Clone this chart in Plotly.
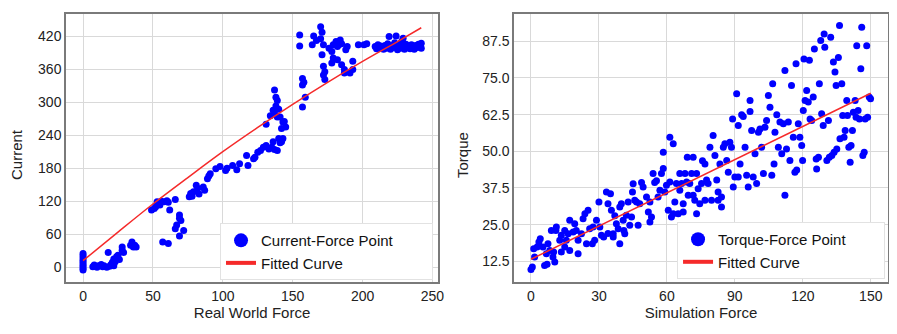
import plotly.graph_objects as go
from plotly.subplots import make_subplots

# ---- left panel: current vs real world force ----
current_pts = [
    (0, -5), (0, -2), (0, 2), (0, 5), (0, 9), (0, 13), (0, 17), (0, 21), (0, 25),
    (7, 1), (8, 4), (10, 0), (11, 3), (13, 5), (14, 1), (15, 3), (17, 0), (18, 27), (19, 2),
    (20, 5), (21, 9), (22, 3), (22, 15), (23, 10), (24, 19), (25, 22), (26, 14), (28, 37),
    (28, 31), (29, 27), (34, 40), (35, 46), (36, 37), (37, 40), (38, 37),
    (49, 104), (51, 107), (52, 110), (53, 119), (55, 113), (56, 120), (58, 119), (60, 121),
    (61, 118), (62, 104), (66, 123), (67, 77), (66, 70), (69, 95), (69, 89), (70, 85),
    (69, 57), (72, 67), (57, 46), (61, 43),
    (76, 128), (77, 134), (78, 129), (79, 137), (81, 149), (82, 143), (83, 133), (86, 146),
    (87, 140), (89, 161), (90, 166), (91, 170), (95, 179), (98, 183), (102, 176), (103, 180),
    (107, 185), (110, 177), (112, 188), (117, 203), (118, 185), (122, 197), (123, 200),
    (125, 209), (127, 212), (129, 218), (131, 221), (133, 215), (135, 218), (137, 214),
    (139, 212), (141, 226), (142, 230), (143, 234),
    (131, 260), (134, 275), (136, 285), (137, 279), (137, 322), (138, 309), (139, 303),
    (139, 273), (140, 234), (141, 273), (142, 228), (136, 228), (142, 252), (143, 264),
    (144, 265), (145, 255), (138, 293), (140, 287),
    (155, 402), (155, 422), (157, 343), (157, 331), (158, 336), (159, 309), (157, 291),
    (164, 404), (165, 420), (167, 412), (170, 437), (171, 427), (170, 415), (172, 404),
    (171, 386), (172, 365), (173, 355), (172, 349), (173, 341),
    (176, 398), (178, 392), (179, 404), (181, 410), (182, 401), (183, 404), (184, 413),
    (185, 406), (178, 371), (179, 380), (182, 377), (185, 368), (187, 359), (187, 353),
    (189, 401), (193, 374), (193, 359), (191, 353), (188, 395),
    (197, 404), (201, 404), (203, 406),
    (209, 401), (210, 397), (211, 404), (212, 398), (213, 402), (214, 399), (215, 396),
    (216, 403), (217, 398), (218, 406), (219, 419), (219, 400), (220, 396), (221, 403),
    (222, 399), (223, 408), (224, 420), (224, 400), (225, 395), (226, 404), (227, 398),
    (228, 410), (229, 416), (229, 401), (230, 396), (231, 405), (232, 399), (233, 402),
    (234, 397), (235, 404), (236, 400), (237, 396), (238, 403), (239, 399), (240, 405),
    (241, 401), (242, 407), (242, 398),
]
current_force = [p[0] for p in current_pts]
current_vals = [p[1] for p in current_pts]

current_fit_x = [0, 25, 50, 75, 100, 125, 150, 175, 200, 225, 242]
current_fit_y = [12, 64, 115, 163, 210, 254, 296, 336, 374, 410, 435]

# ---- right panel: torque vs simulation force ----
torque_pts = [
    (0, 9.7), (0.6, 10.6), (1.6, 14), (1.2, 16.8), (2.7, 17.4), (3.5, 19.1), (4.1, 20.2),
    (5.3, 17.4), (6, 11.1), (7.1, 11.5), (6.8, 15.1), (7.5, 18.5), (8.3, 16.2), (9.7, 14),
    (10.5, 12.3), (10, 15.7), (9, 23), (11, 23), (11.2, 24.2), (12.7, 19.7), (13.4, 15.7),
    (13.4, 21.4), (14.9, 23), (15.6, 19.7), (14.9, 17.4), (16.4, 21.9), (17.1, 26.5),
    (17.1, 16.2), (18.6, 22.5), (19.3, 25.3), (20, 23), (20.8, 15.1), (20.8, 19.7),
    (22.3, 21.9), (23, 27), (23.8, 28.7), (24.5, 18.5), (25.2, 29.9), (25.9, 23.6),
    (27.1, 18.5), (27.4, 24.2), (28.1, 19.7), (28.9, 26.5), (30, 32.7), (30.4, 24.2),
    (31.1, 21.4), (32.1, 20.8), (33.3, 36.1), (34, 32.1), (34, 22), (35.1, 35.5),
    (35.5, 29.9), (36.3, 21.9), (36.3, 20.8), (37, 28), (37.7, 25.3), (38.5, 23.6),
    (39.2, 18.5), (39.2, 31), (39.9, 32.1), (40.7, 26.5), (41, 23), (41.4, 21.9),
    (42.1, 28.2), (42.9, 32.7), (43.6, 24.8), (44.4, 27.6), (44.8, 36.1), (45.1, 38.9),
    (45.8, 33.3), (46.6, 32.7), (47.3, 24.8), (48, 32.1), (48.8, 39.4), (49.5, 37.8),
    (51, 34.4), (51.8, 29.3), (52.5, 32.7), (52.5, 25.9), (53.2, 27.6), (53.9, 42.4),
    (54.6, 39.4), (55.4, 40), (56.1, 34.4), (56.9, 36.7), (57.6, 42.4), (58.4, 44.1),
    (58.4, 49.7), (59.1, 36.1), (59.8, 38.4), (60.6, 29.9), (61.3, 39.5), (61.3, 54.8),
    (62, 27.6), (62.8, 52.6), (62.8, 28.7), (63.5, 32.7), (64.2, 39), (65, 28.7),
    (65.7, 42.4), (65.7, 36.7), (66.5, 39), (67.2, 32.1), (67.2, 29.3), (68, 42.4),
    (68.7, 39.5), (69, 48), (69.4, 35), (70.1, 39), (70.9, 42.4), (71.6, 48), (71.6, 35),
    (72.3, 33.3), (73.1, 28.7), (73.1, 42.4), (73.8, 37.2), (74.5, 32.1), (75.3, 39),
    (75.7, 46.8), (76.8, 45.7), (76.8, 33.3), (77.5, 40.2), (78.2, 39), (79, 51.4),
    (79.7, 33.3), (80.4, 55.4), (81.2, 48.6), (82, 40.2), (82.6, 36.1), (82.6, 33.3),
    (83.4, 45.7), (84.1, 31), (84.1, 34.4), (84.9, 51.4), (85.6, 52.6), (86.4, 46.9),
    (87.1, 42.9), (87.8, 53.1), (88.5, 51.4), (89, 61), (89.3, 37.8), (90, 41.2),
    (90.8, 69.6), (91.5, 58.8), (91.5, 41.2), (92.3, 45.7), (93, 62.5), (93.7, 61.9),
    (94.5, 51.4), (95.2, 41.8), (95.9, 37.8), (96.7, 63.6), (96.7, 67.3), (97.4, 57.1),
    (98.1, 41.2), (98.9, 49.2), (99.6, 39), (100.4, 56.5), (101.1, 57.6), (101.8, 51.4),
    (102.6, 42.4), (103.3, 58.2), (104, 60.5), (104.8, 69), (105.5, 65), (106.3, 41.8),
    (106.7, 73), (107.3, 45.7), (107.7, 56.5), (108.5, 62.5), (109.2, 51.4), (109.9, 60),
    (110.7, 49.2), (111.4, 59.4), (112.1, 35), (112.1, 77.5), (112.8, 50.8), (113.6, 60),
    (114.3, 46.9), (115, 72.4), (115.8, 54.8), (116.5, 42.9), (117, 79.8), (117.3, 43.6),
    (118, 59.4), (118.7, 54.8), (119.5, 52), (119.9, 46.9), (120.2, 63.9), (120.5, 81.5),
    (121, 67.3), (121.7, 70.7), (122.4, 66.8), (122.9, 81), (123.2, 61), (123.9, 60.5),
    (124.6, 68.5), (125.1, 84.9), (125.9, 47.4), (126.1, 44), (126.9, 48), (127.3, 73),
    (127.9, 87.8), (128.3, 62.8), (129, 58.8), (129.4, 90), (129.7, 85.5), (130.6, 46.9),
    (131.3, 60.5), (131.7, 48), (132.3, 88.9), (132.8, 48.6), (133.5, 80.4), (133.8, 49.7),
    (134.2, 77), (134.7, 72.4), (135, 50.8), (135.7, 82), (136.2, 92.9), (136.4, 54.3),
    (137.2, 73), (137.6, 62.2), (138.2, 54.8), (138.7, 57.1), (139.4, 67.3), (139.7, 62.2),
    (140.3, 51.4), (140.9, 46.3), (141.3, 52), (141.9, 57.1), (142.3, 63.3), (143.1, 67.3),
    (143.5, 61.6), (143.8, 86), (144.4, 63.9), (145, 61), (145.6, 78.1), (146, 92.3),
    (146.5, 48.6), (147.1, 49.7), (147.5, 61), (148.2, 86), (148.6, 61.6), (149.3, 68.5),
    (149.9, 67.9),
]
sim_force = [p[0] for p in torque_pts]
torque_vals = [p[1] for p in torque_pts]

torque_fit_x = [0, 150]
torque_fit_y = [13.2, 69.8]

BLUE = "#0000ff"
RED = "#f52a2a"
FONT = "Arial, Liberation Sans, sans-serif"
PAD = "\u00a0" * 8  # widen legend boxes a bit

fig = make_subplots(rows=1, cols=2)

fig.add_trace(go.Scatter(x=current_force, y=current_vals, mode="markers",
                         marker=dict(color=BLUE, size=7), showlegend=False), row=1, col=1)
fig.add_trace(go.Scatter(x=current_fit_x, y=current_fit_y, mode="lines", line_shape="spline",
                         line=dict(color=RED, width=1.5), showlegend=False), row=1, col=1)
fig.add_trace(go.Scatter(x=sim_force, y=torque_vals, mode="markers",
                         marker=dict(color=BLUE, size=7), showlegend=False), row=1, col=2)
fig.add_trace(go.Scatter(x=torque_fit_x, y=torque_fit_y, mode="lines",
                         line=dict(color=RED, width=1.5), showlegend=False), row=1, col=2)

# legend-only entries with bigger symbols
for name, lg in [("Current-Force Point", "legend"), ("Torque-Force Point", "legend2")]:
    fig.add_trace(go.Scatter(x=[None], y=[None], mode="markers", name=name + PAD, legend=lg,
                             marker=dict(color=BLUE, size=14)))
    fig.add_trace(go.Scatter(x=[None], y=[None], mode="lines", name="Fitted Curve", legend=lg,
                             line=dict(color=RED, width=4)))

axis_style = dict(
    showgrid=True, gridcolor="#d9d9d9", gridwidth=1, zeroline=False,
    showline=True, linecolor="#7a7a7a", linewidth=1.5, mirror=True,
    ticks="", automargin=False,
    tickfont=dict(size=14, color="#222222", family=FONT),
    title_font=dict(size=15, color="#222222", family=FONT),
)

fig.update_xaxes(axis_style)
fig.update_yaxes(axis_style)

fig.update_xaxes(domain=[0, 0.4526], range=[-12.2, 254], dtick=50,
                 title_text="Real World Force", title_standoff=2, row=1, col=1)
fig.update_yaxes(range=[-26.7, 460], dtick=60, row=1, col=1)
fig.update_xaxes(domain=[0.545, 1], range=[-7.5, 157.6], dtick=30,
                 title_text="Simulation Force", title_standoff=2, row=1, col=2)
fig.update_yaxes(range=[5.45, 96.8], tick0=12.5, dtick=12.5, tickformat=".1f",
                 row=1, col=2)

# y titles placed as annotations for exact position
for text, xpos in [("Current", -0.0596), ("Torque", 0.483)]:
    fig.add_annotation(text=text, xref="paper", yref="paper", x=xpos, y=0.474,
                       xanchor="center", yanchor="middle", textangle=-90, showarrow=False,
                       font=dict(size=15, color="#222222", family=FONT))

legend_style = dict(
    bgcolor="white", bordercolor="#e2e2e2", borderwidth=1,
    font=dict(size=15, color="#111111", family=FONT),
    xanchor="right", yanchor="bottom", tracegroupgap=0,
)
# page body has an 8px margin, so the figure is drawn 8px smaller and margins shifted
fig.update_layout(
    legend=dict(legend_style, x=0.4465, y=0.007),
    legend2=dict(legend_style, x=0.9964, y=0.011),
    width=889, height=326,
    margin=dict(l=58, r=9, t=6, b=52),
    paper_bgcolor="white", plot_bgcolor="white",
    font=dict(family=FONT),
)

fig.write_html("out.html")
